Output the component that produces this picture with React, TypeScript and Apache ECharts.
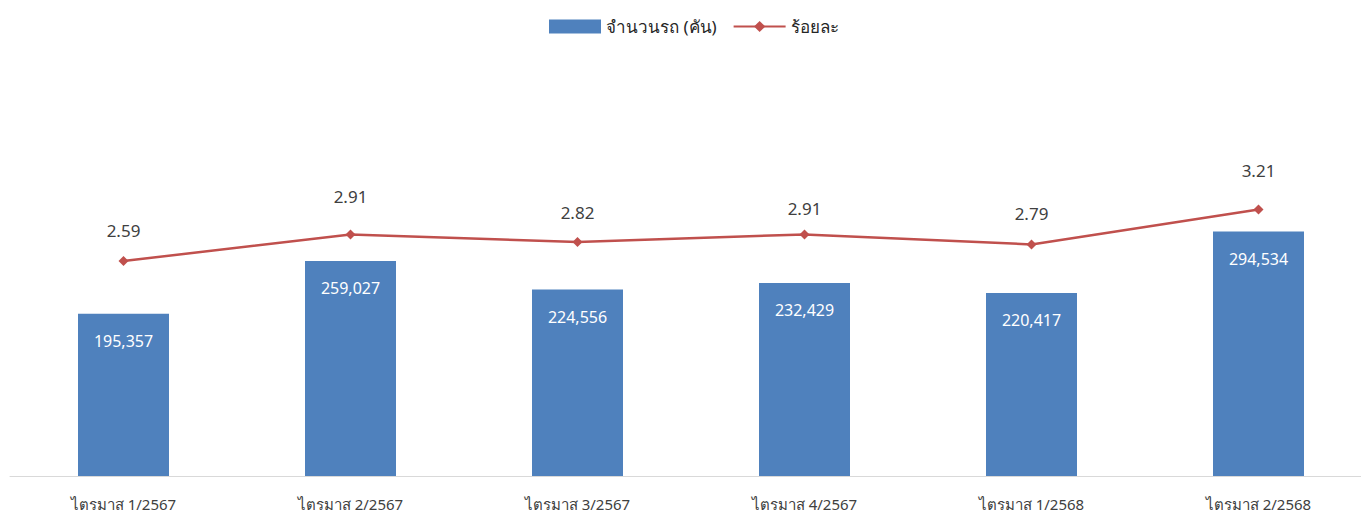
import React, { useEffect, useRef } from "react";
import * as echarts from "echarts";

const categories = ["ไตรมาส 1/2567", "ไตรมาส 2/2567", "ไตรมาส 3/2567", "ไตรมาส 4/2567", "ไตรมาส 1/2568", "ไตรมาส 2/2568"];
const vehicles = [195357, 259027, 224556, 232429, 220417, 294534];
const percent = [2.59, 2.91, 2.82, 2.91, 2.79, 3.21];
const barName = "จำนวนรถ (คัน)";
const lineName = "ร้อยละ";
// label distance above each point (style only)
const labelDistances = [17, 24, 16, 12, 17, 26];

const FONT = "Tahoma, 'Noto Sans', 'DejaVu Sans', sans-serif";

export default function App() {
  const ref = useRef<HTMLDivElement>(null);
  useEffect(() => {
    if (!ref.current) return;
    const chart = echarts.init(ref.current, null, { renderer: "svg" });
    chart.setOption({
      animation: false,
      textStyle: { fontFamily: FONT },
      legend: {
        top: 13,
        left: 544,
        itemWidth: 52,
        itemHeight: 14,
        itemGap: 16,
        textStyle: { fontSize: 17, color: "#262626", fontFamily: FONT },
        data: [
          { name: barName, icon: "rect" },
          { name: lineName },
        ],
      },
      grid: { left: 10, top: 61, right: 0, bottom: 38, containLabel: false },
      xAxis: {
        type: "category",
        data: categories,
        axisLine: { lineStyle: { color: "#d9d9d9", width: 1 } },
        axisTick: { show: false },
        axisLabel: { color: "#404040", fontSize: 15, margin: 20, fontFamily: FONT },
      },
      yAxis: [
        { type: "value", min: 0, max: 500000, show: false, splitLine: { show: false } },
        { type: "value", min: 0, max: 5, show: false, splitLine: { show: false } },
      ],
      series: [
        {
          name: barName,
          type: "bar",
          data: vehicles,
          barWidth: 91,
          yAxisIndex: 0,
          itemStyle: { color: "#4f81bd" },
          label: {
            show: true,
            position: "insideTop",
            distance: 19,
            color: "#ffffff",
            fontSize: 16,
            fontFamily: FONT,
            formatter: (p: any) => Number(p.value).toLocaleString("en-US"),
          },
        },
        {
          name: lineName,
          type: "line",
          data: percent.map((v, i) => ({ value: v, label: { distance: labelDistances[i] } })),
          yAxisIndex: 1,
          symbol: "diamond",
          symbolSize: 10,
          lineStyle: { color: "#c0504d", width: 2.5 },
          itemStyle: { color: "#c0504d" },
          label: {
            show: true,
            position: "top",
            color: "#404040",
            fontSize: 17,
            fontFamily: FONT,
            formatter: (p: any) => Number(p.value).toFixed(2),
          },
        },
      ],
    });
    return () => chart.dispose();
  }, []);
  return (
    <div style={{ position: "absolute", left: 0, top: 0, width: 1361, height: 514, overflow: "hidden", background: "#ffffff" }}>
      <div ref={ref} style={{ width: 1372, height: 514 }} />
    </div>
  );
}
